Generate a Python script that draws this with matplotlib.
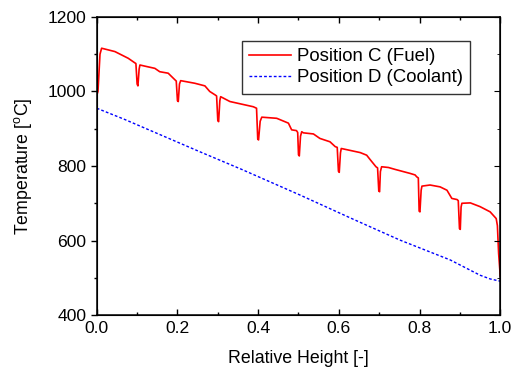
import numpy as np
import matplotlib
matplotlib.use('Agg')
import matplotlib.pyplot as plt
from matplotlib.ticker import MultipleLocator

plt.rcParams['font.family'] = ['Liberation Sans', 'DejaVu Sans']
plt.rcParams['mathtext.default'] = 'regular'

# Position C (fuel)
fuel_x = [0.0, 0.003, 0.008, 0.012, 0.045, 0.078, 0.094, 0.097, 0.100, 0.102, 0.105, 0.107,
          0.119, 0.144, 0.156, 0.177, 0.194, 0.197, 0.200, 0.202, 0.205, 0.208,
          0.243, 0.268, 0.280, 0.293, 0.297, 0.300, 0.302, 0.305, 0.307,
          0.330, 0.388, 0.396, 0.399, 0.401, 0.405, 0.409,
          0.446, 0.475, 0.483, 0.495, 0.498, 0.500, 0.502, 0.505, 0.508,
          0.512, 0.537, 0.553, 0.578, 0.591, 0.596, 0.599, 0.601, 0.604, 0.606,
          0.653, 0.669, 0.677, 0.692, 0.696, 0.699, 0.701, 0.703, 0.706,
          0.723, 0.739, 0.777, 0.789, 0.793, 0.797, 0.799, 0.801, 0.804, 0.806,
          0.826, 0.851, 0.868, 0.880, 0.893, 0.896, 0.899, 0.901, 0.903, 0.905,
          0.926, 0.950, 0.975, 0.990, 0.993, 0.996, 0.999, 1.0]
fuel_T = [990, 1000, 1100, 1116, 1107, 1089, 1077, 1075, 1020, 1015, 1060, 1071,
          1068, 1062, 1053, 1049, 1031, 1028, 975, 973, 1020, 1029,
          1022, 1015, 1000, 991, 988, 922, 919, 975, 986,
          973, 959, 955, 872, 870, 920, 931,
          928, 915, 897, 895, 890, 830, 827, 880, 892,
          889, 886, 874, 865, 852, 850, 786, 783, 835, 847,
          836, 829, 818, 798, 795, 733, 731, 785, 798,
          796, 791, 780, 776, 771, 768, 679, 677, 735, 746,
          749, 744, 735, 713, 710, 707, 632, 630, 690, 700,
          701, 691, 677, 659, 640, 566, 521, 505]

# Position D (coolant)
cool_x = [0.0, 0.069, 0.256, 0.359, 0.504, 0.636, 0.752, 0.876, 0.950, 0.975, 0.996, 1.0]
cool_T = [955, 925, 838, 791, 722, 657, 601, 548, 507, 497, 492, 491]

fig = plt.figure(figsize=(5.12, 3.76), dpi=100)
ax = fig.add_axes([0.189, 0.162, 0.788, 0.793])

ax.plot(fuel_x, fuel_T, color='red', lw=1.2, label='Position C (Fuel)')
ax.plot(cool_x, cool_T, color='blue', lw=1.0, linestyle=(0, (2, 1.5)),
        label='Position D (Coolant)')

ax.set_xlim(0, 1.0)
ax.set_ylim(400, 1200)
ax.xaxis.set_minor_locator(MultipleLocator(0.1))
ax.yaxis.set_major_locator(MultipleLocator(200))
ax.yaxis.set_minor_locator(MultipleLocator(100))
ax.set_xticks([0, 0.2, 0.4, 0.6, 0.8, 1.0])
ax.set_xticklabels(['0.0', '0.2', '0.4', '0.6', '0.8', '1.0'])

ax.tick_params(axis='x', which='both', direction='in', top=True, labelsize=12.6, pad=4)
ax.tick_params(axis='y', which='both', direction='out', labelsize=12.6)
ax.tick_params(which='major', length=4, width=1)
ax.tick_params(which='minor', length=2.5, width=1)
for s in ax.spines.values():
    s.set_linewidth(1.1)

# right side ticks pointing inward
ax2 = ax.twinx()
ax2.set_ylim(400, 1200)
ax2.yaxis.set_major_locator(MultipleLocator(200))
ax2.yaxis.set_minor_locator(MultipleLocator(100))
ax2.tick_params(which='both', direction='in', labelright=False)
ax2.tick_params(which='major', length=4)
ax2.tick_params(which='minor', length=2.5)

ax.set_xlabel('Relative Height [-]', fontsize=12.8, labelpad=10)
ax.set_ylabel('Temperature [$^o$C]', fontsize=12.8, labelpad=10)

leg = ax.legend(loc='upper right', bbox_to_anchor=(0.926, 0.92), fontsize=13.4,
                fancybox=False, framealpha=1, edgecolor='#333333',
                handlelength=2.25, handletextpad=0.3, borderpad=0.4,
                labelspacing=0.22, borderaxespad=0)
leg.get_frame().set_linewidth(1.0)

fig.savefig('out.png', dpi=100)
